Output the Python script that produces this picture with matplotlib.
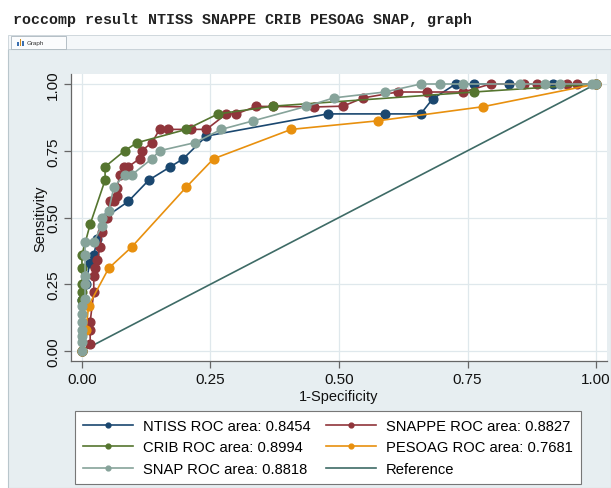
import matplotlib
matplotlib.use("Agg")
import matplotlib.pyplot as plt
from matplotlib.patches import Rectangle

# ---------------- data ----------------
ntiss_x = [0, 0, 0.008, 0.015, 0.023, 0.03, 0.045, 0.09, 0.13, 0.172, 0.197, 0.242,
           0.478, 0.589, 0.659, 0.682, 0.727, 0.762, 0.83, 0.917, 1.0]
ntiss_y = [0, 0.19, 0.25, 0.33, 0.36, 0.42, 0.50, 0.56, 0.64, 0.69, 0.72, 0.805,
           0.888, 0.888, 0.888, 0.944, 1.0, 1.0, 1.0, 1.0, 1.0]

snappe_x = [0, 0.016, 0.016, 0.016, 0.023, 0.023, 0.026, 0.03, 0.035, 0.039, 0.048, 0.055,
            0.062, 0.068, 0.068, 0.074, 0.081, 0.09, 0.112, 0.116, 0.136, 0.151, 0.167,
            0.213, 0.242, 0.281, 0.30, 0.339, 0.372, 0.452, 0.508, 0.547, 0.614, 0.672,
            0.742, 0.795, 0.859, 0.885, 0.944, 0.963, 1.0]
snappe_y = [0, 0.026, 0.08, 0.11, 0.22, 0.28, 0.31, 0.34, 0.39, 0.445, 0.50, 0.56,
            0.56, 0.58, 0.61, 0.66, 0.69, 0.69, 0.72, 0.75, 0.78, 0.83, 0.83,
            0.83, 0.83, 0.888, 0.888, 0.916, 0.916, 0.914, 0.917, 0.948, 0.97, 0.97,
            0.97, 1.0, 1.0, 1.0, 1.0, 1.0, 1.0]

crib_x = [0, 0, 0, 0, 0, 0, 0.016, 0.045, 0.045, 0.083, 0.107, 0.203, 0.265, 0.372, 0.762, 1.0]
crib_y = [0, 0.19, 0.22, 0.25, 0.31, 0.36, 0.475, 0.64, 0.69, 0.75, 0.78, 0.83, 0.888, 0.917, 0.97, 1.0]

pesoag_x = [0, 0.008, 0.013, 0.052, 0.097, 0.203, 0.256, 0.407, 0.575, 0.78, 1.0]
pesoag_y = [0, 0.08, 0.17, 0.31, 0.39, 0.614, 0.72, 0.83, 0.862, 0.915, 1.0]

snap_x = [0, 0, 0, 0, 0, 0, 0, 0.006, 0.006, 0.006, 0.006, 0.006, 0.023, 0.039, 0.039,
          0.052, 0.062, 0.083, 0.097, 0.136, 0.151, 0.219, 0.271, 0.333, 0.436, 0.49,
          0.589, 0.659, 0.696, 0.742, 0.853, 0.90, 0.93, 0.992, 1.0]
snap_y = [0, 0.034, 0.056, 0.08, 0.11, 0.14, 0.17, 0.195, 0.25, 0.28, 0.36, 0.41, 0.41, 0.47, 0.50,
          0.525, 0.614, 0.66, 0.66, 0.72, 0.75, 0.78, 0.83, 0.862, 0.916, 0.948,
          0.97, 1.0, 1.0, 1.0, 1.0, 1.0, 1.0, 1.0, 1.0]

ref_x = [0, 1]
ref_y = [0, 1]

labels = ["NTISS ROC area: 0.8454", "SNAPPE ROC area: 0.8827", "CRIB ROC area: 0.8994",
          "PESOAG ROC area: 0.7681", "SNAP ROC area: 0.8818", "Reference"]
ticks = [0.0, 0.25, 0.5, 0.75, 1.0]
tick_labels = ["0.00", "0.25", "0.50", "0.75", "1.00"]

c_navy = "#1a476f"
c_maroon = "#90353b"
c_green = "#55752f"
c_orange = "#e8900e"
c_teal = "#86a39a"
c_ref = "#3e6b66"
bg = "#e7eef1"

plt.rcParams["font.family"] = ["Liberation Sans", "DejaVu Sans"]

W, H = 611, 489
fig = plt.figure(figsize=(W / 100, H / 100), dpi=100)
fig.patch.set_facecolor("white")

def fx(px):
    return px / W

def fy(py):
    return 1 - py / H

# graph window background
fig.patches.append(Rectangle((fx(8), 0), fx(W - 8), fy(50), transform=fig.transFigure,
                             facecolor=bg, edgecolor="#b9c6cc", lw=0.8, zorder=-10))
# tab bar
fig.patches.append(Rectangle((fx(8), fy(50)), fx(W - 8), (50 - 36) / H, transform=fig.transFigure,
                             facecolor="#f4f7f9", edgecolor="#c8d2d8", lw=0.6, zorder=-9))
fig.patches.append(Rectangle((fx(11), fy(50)), fx(55), (50 - 37) / H, transform=fig.transFigure,
                             facecolor="#fbfcfd", edgecolor="#aab6bd", lw=0.6, zorder=-8))
fig.text(fx(27), fy(43.5), "Graph", fontsize=4.5, va="center", ha="left", color="#333333")
for i, (hh, cc) in enumerate([(4, "#3a6fb0"), (7, "#d08a1a"), (5, "#3a6fb0")]):
    fig.patches.append(Rectangle((fx(17 + i * 2.5), fy(47)), fx(1.8), hh / H,
                                 transform=fig.transFigure, facecolor=cc, edgecolor="none", zorder=-7))

# command text
fig.text(fx(13), fy(20), "roccomp result NTISS SNAPPE CRIB PESOAG SNAP, graph",
         family=["Liberation Mono", "DejaVu Sans Mono"], fontsize=10.8, fontweight="bold",
         color="#222222", va="center", ha="left")

# axes
ax = fig.add_axes([fx(71), fy(362), fx(607 - 71), (362 - 75) / H])
ax.set_zorder(5)
ax.set_facecolor("white")
ax.set_xlim(-11 / 516, 1 + 11 / 516)
ax.set_ylim(-10 / 267, 1 + 10 / 267)

ax.grid(True, color="#dfe8ec", lw=0.9)
ax.set_axisbelow(True)

ms = 6.3
lw = 1.2
h_ntiss, = ax.plot(ntiss_x, ntiss_y, "-o", color=c_navy, ms=ms, lw=lw, zorder=3)
h_snappe, = ax.plot(snappe_x, snappe_y, "-o", color=c_maroon, ms=ms, lw=lw, zorder=3)
h_crib, = ax.plot(crib_x, crib_y, "-o", color=c_green, ms=ms, lw=lw, zorder=3)
h_pesoag, = ax.plot(pesoag_x, pesoag_y, "-o", color=c_orange, ms=ms, lw=lw, zorder=3)
h_snap, = ax.plot(snap_x, snap_y, "-o", color=c_teal, ms=ms, lw=lw, zorder=3)
h_ref, = ax.plot(ref_x, ref_y, "-", color=c_ref, lw=lw, zorder=2)

for s in ["top", "right"]:
    ax.spines[s].set_visible(False)
for s in ["left", "bottom"]:
    ax.spines[s].set_color("#666666")
    ax.spines[s].set_linewidth(0.9)

ax.set_xticks(ticks)
ax.set_xticklabels(tick_labels)
ax.set_yticks(ticks)
ax.set_yticklabels(tick_labels, rotation=90, va="center")
ax.tick_params(axis="both", direction="out", length=5, width=0.9, color="#666666",
               labelsize=11, labelcolor="#111111", pad=3)
ax.set_xlabel("1-Specificity", fontsize=10.5, color="#111111", labelpad=2)
ax.set_ylabel("Sensitivity", fontsize=10.5, color="#111111", labelpad=-1)

handles = [h_ntiss, h_crib, h_snap, h_snappe, h_pesoag, h_ref]
leg_labels = [labels[0], labels[2], labels[4], labels[1], labels[3], labels[5]]
leg = fig.legend(handles, leg_labels, ncol=2, loc="upper left",
                 bbox_to_anchor=(fx(75), fy(412)), bbox_transform=fig.transFigure,
                 fontsize=10.6, frameon=True, fancybox=False, edgecolor="#777777",
                 framealpha=1, facecolor="white", handlelength=3.4, handletextpad=0.68,
                 columnspacing=1.0, labelspacing=0.5, borderpad=0.55, borderaxespad=0,
                 markerscale=0.55)
leg.set_zorder(6)
leg.get_frame().set_linewidth(0.8)

fig.savefig("out.png", dpi=100)
